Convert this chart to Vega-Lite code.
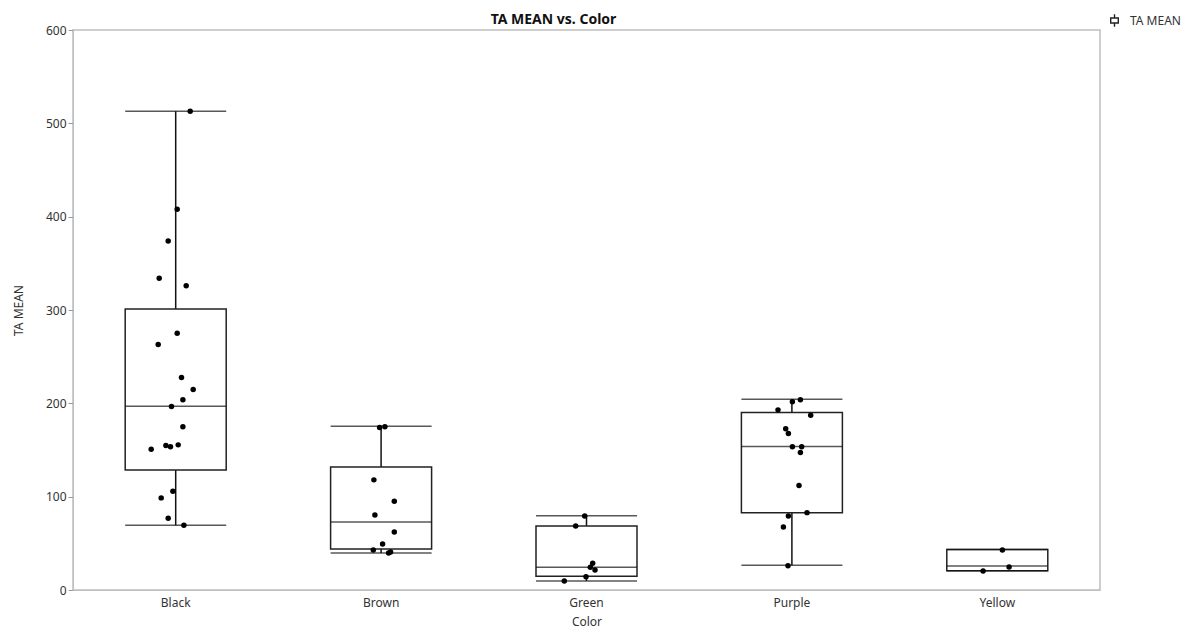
{
  "$schema": "https://vega.github.io/schema/vega-lite/v6.json",
  "width": 1027,
  "height": 560,
  "autosize": "none",
  "padding": {"left": 73, "top": 30, "right": 98, "bottom": 44},
  "background": "white",
  "config": {
    "font": "Noto Sans",
    "view": {"stroke": "#bfbfbf", "strokeWidth": 1.5},
    "axis": {"labelFont": "Noto Sans", "titleFont": "Noto Sans", "labelColor": "#333333", "titleColor": "#333333", "labelFontSize": 12, "titleFontSize": 12, "titleFontWeight": "normal", "domainColor": "#bfbfbf", "tickColor": "#999999", "grid": false}
  },
  "title": {"text": "TA MEAN vs. Color", "fontSize": 14, "fontWeight": "bold", "font": "Noto Sans", "color": "#111111", "anchor": "middle", "frame": "group", "dx": -33, "dy": 18, "offset": 4},
  "datasets": {
    "points": [
      {"Color": "Black", "TA MEAN": 513, "jitter": 14.5},
      {"Color": "Black", "TA MEAN": 408, "jitter": 1.5},
      {"Color": "Black", "TA MEAN": 374, "jitter": -7.5},
      {"Color": "Black", "TA MEAN": 334, "jitter": -16.5},
      {"Color": "Black", "TA MEAN": 326, "jitter": 10.5},
      {"Color": "Black", "TA MEAN": 275, "jitter": 1.5},
      {"Color": "Black", "TA MEAN": 263, "jitter": -17.5},
      {"Color": "Black", "TA MEAN": 227.7, "jitter": 5.8},
      {"Color": "Black", "TA MEAN": 214.8, "jitter": 17.5},
      {"Color": "Black", "TA MEAN": 203.8, "jitter": 7.2},
      {"Color": "Black", "TA MEAN": 196.6, "jitter": -4.2},
      {"Color": "Black", "TA MEAN": 174.8, "jitter": 7.2},
      {"Color": "Black", "TA MEAN": 155.5, "jitter": 2.5},
      {"Color": "Black", "TA MEAN": 154.8, "jitter": -9.8},
      {"Color": "Black", "TA MEAN": 153.4, "jitter": -5.2},
      {"Color": "Black", "TA MEAN": 150.9, "jitter": -24.5},
      {"Color": "Black", "TA MEAN": 105.8, "jitter": -2.8},
      {"Color": "Black", "TA MEAN": 98.7, "jitter": -14.5},
      {"Color": "Black", "TA MEAN": 76.9, "jitter": -7.5},
      {"Color": "Black", "TA MEAN": 69.4, "jitter": 8.2},
      {"Color": "Brown", "TA MEAN": 174, "jitter": -1.5},
      {"Color": "Brown", "TA MEAN": 175, "jitter": 3.8},
      {"Color": "Brown", "TA MEAN": 118, "jitter": -7.2},
      {"Color": "Brown", "TA MEAN": 95.1, "jitter": 13.2},
      {"Color": "Brown", "TA MEAN": 80.4, "jitter": -6.2},
      {"Color": "Brown", "TA MEAN": 62.2, "jitter": 13.2},
      {"Color": "Brown", "TA MEAN": 49.3, "jitter": 1.5},
      {"Color": "Brown", "TA MEAN": 42.9, "jitter": -7.8},
      {"Color": "Brown", "TA MEAN": 39.7, "jitter": 7.5},
      {"Color": "Brown", "TA MEAN": 40.7, "jitter": 9.5},
      {"Color": "Green", "TA MEAN": 79.4, "jitter": -1.8},
      {"Color": "Green", "TA MEAN": 68.6, "jitter": -10.8},
      {"Color": "Green", "TA MEAN": 28.6, "jitter": 6.2},
      {"Color": "Green", "TA MEAN": 24.3, "jitter": 3.8},
      {"Color": "Green", "TA MEAN": 21.4, "jitter": 8.5},
      {"Color": "Green", "TA MEAN": 14.3, "jitter": -0.5},
      {"Color": "Green", "TA MEAN": 9.7, "jitter": -22.2},
      {"Color": "Purple", "TA MEAN": 203.8, "jitter": 8.5},
      {"Color": "Purple", "TA MEAN": 201.6, "jitter": 0.5},
      {"Color": "Purple", "TA MEAN": 193, "jitter": -13.9},
      {"Color": "Purple", "TA MEAN": 187.3, "jitter": 18.8},
      {"Color": "Purple", "TA MEAN": 172.7, "jitter": -6.2},
      {"Color": "Purple", "TA MEAN": 167.6, "jitter": -3.5},
      {"Color": "Purple", "TA MEAN": 153.4, "jitter": 0.5},
      {"Color": "Purple", "TA MEAN": 153.4, "jitter": 9.8},
      {"Color": "Purple", "TA MEAN": 147.3, "jitter": 8.5},
      {"Color": "Purple", "TA MEAN": 111.9, "jitter": 7.1},
      {"Color": "Purple", "TA MEAN": 82.9, "jitter": 15.1},
      {"Color": "Purple", "TA MEAN": 79.4, "jitter": -3.5},
      {"Color": "Purple", "TA MEAN": 67.6, "jitter": -8.5},
      {"Color": "Purple", "TA MEAN": 26.1, "jitter": -3.9},
      {"Color": "Yellow", "TA MEAN": 42.9, "jitter": 5.1},
      {"Color": "Yellow", "TA MEAN": 24.7, "jitter": 11.8},
      {"Color": "Yellow", "TA MEAN": 20.3, "jitter": -14.2}
    ],
    "boxes": [
      {"Color": "Black", "lower": 69.4, "q1": 128.7, "median": 197, "q3": 301, "upper": 513, "series": "TA MEAN"},
      {"Color": "Brown", "lower": 39.7, "q1": 44, "median": 72.9, "q3": 131.9, "upper": 175.5, "series": "TA MEAN"},
      {"Color": "Green", "lower": 9.7, "q1": 14.6, "median": 24.3, "q3": 68.6, "upper": 79.6, "series": "TA MEAN"},
      {"Color": "Purple", "lower": 26.5, "q1": 82.9, "median": 153.7, "q3": 190.2, "upper": 204.3, "series": "TA MEAN"},
      {"Color": "Yellow", "lower": 20.7, "q1": 20.7, "median": 25.7, "q3": 43.4, "upper": 43.4, "series": "TA MEAN"}
    ]
  },
  "encoding": {
    "x": {"field": "Color", "type": "nominal", "sort": ["Black", "Brown", "Green", "Purple", "Yellow"],
      "scale": {"type": "band", "paddingInner": 0, "paddingOuter": 0},
      "axis": {"title": "Color", "labelAngle": 0, "ticks": false, "labelPadding": 7, "titlePadding": 8}}
  },
  "layer": [
    {
      "data": {"name": "boxes"},
      "mark": {"type": "rule", "color": "#111111", "strokeWidth": 1.5},
      "encoding": {
        "y": {"field": "lower", "type": "quantitative", "scale": {"domain": [0, 600], "nice": false}, "axis": {"title": "TA MEAN", "values": [0, 100, 200, 300, 400, 500, 600], "tickSize": 5, "labelPadding": 2, "titlePadding": 20}},
        "y2": {"field": "upper"}
      }
    },
    {
      "data": {"name": "boxes"},
      "mark": {"type": "bar", "fill": "white", "stroke": "#222222", "strokeWidth": 1.5, "size": 101},
      "encoding": {
        "y": {"field": "q1", "type": "quantitative"},
        "y2": {"field": "q3"},
        "stroke": {"field": "series", "type": "nominal", "scale": {"range": ["#222222"]},
          "legend": {"title": null, "orient": "none", "legendX": 1034, "legendY": -17, "symbolType": "M0,-1V-0.4M-0.6,-0.4H0.6V0.4H-0.6ZM0,0.4V1", "symbolSize": 160, "symbolStrokeWidth": 1.4, "symbolFillColor": "white", "labelFontSize": 12, "labelColor": "#333333", "labelFont": "Noto Sans", "labelOffset": 8}}
      }
    },
    {
      "data": {"name": "boxes"},
      "mark": {"type": "tick", "color": "#111111", "thickness": 1.5, "size": 101},
      "encoding": {"y": {"field": "lower", "type": "quantitative"}}
    },
    {
      "data": {"name": "boxes"},
      "mark": {"type": "tick", "color": "#111111", "thickness": 1.5, "size": 101},
      "encoding": {"y": {"field": "upper", "type": "quantitative"}}
    },
    {
      "data": {"name": "boxes"},
      "mark": {"type": "tick", "color": "#111111", "thickness": 1.5, "size": 101},
      "encoding": {"y": {"field": "median", "type": "quantitative"}}
    },
    {
      "data": {"name": "points"},
      "mark": {"type": "circle", "color": "black", "opacity": 1, "size": 30},
      "encoding": {
        "y": {"field": "TA MEAN", "type": "quantitative"},
        "xOffset": {"field": "jitter", "type": "quantitative", "scale": {"domain": [-102.7, 102.7], "range": [0, 205.4]}}
      }
    }
  ]
}
